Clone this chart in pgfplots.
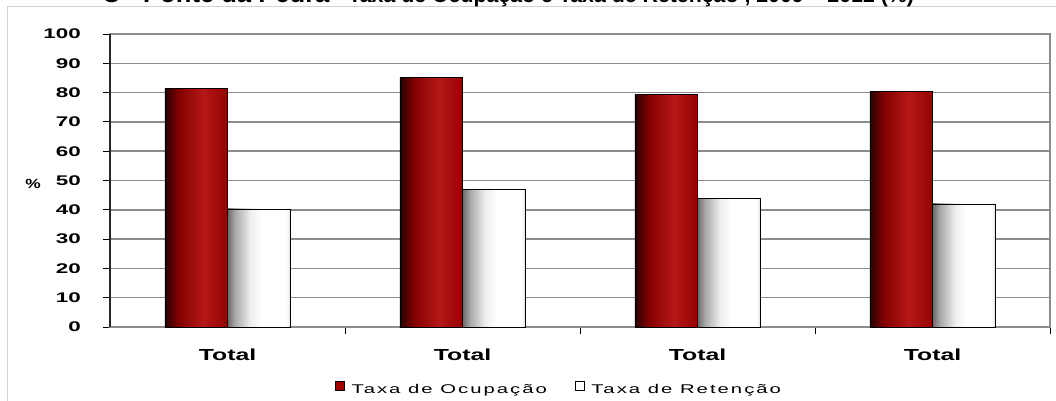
\documentclass[border=0pt]{standalone}
\usepackage{fontspec}
\setmainfont{Liberation Sans}
\usepackage{pgfplots}
\pgfplotsset{compat=1.18}
\definecolor{rb0}{HTML}{2A0000}
\definecolor{rb1}{HTML}{850000}
\definecolor{rb2}{HTML}{B51818}
\definecolor{rb3}{HTML}{950202}
\definecolor{legred}{HTML}{A00000}
\definecolor{wb0}{HTML}{6A6A6A}
\definecolor{wb1}{HTML}{A8A8A8}
\definecolor{wb2}{HTML}{EEEEEE}
\definecolor{wb3}{HTML}{E4E4E4}
\pgfdeclarehorizontalshading{redbar}{100bp}{color(0bp)=(rb0); color(25bp)=(rb0); color(36bp)=(rb1); color(56bp)=(rb2); color(75bp)=(rb3); color(100bp)=(rb3)}
\pgfdeclarehorizontalshading{whitebar}{100bp}{color(0bp)=(wb0); color(25bp)=(wb0); color(31bp)=(wb1); color(43bp)=(wb2); color(52bp)=(white); color(72bp)=(white); color(75bp)=(wb3); color(100bp)=(wb3)}
\newfontfamily\legfont[LetterSpace=10]{Liberation Sans}
\pgfplotsset{
  redb/.style={ybar, forget plot, bar width=0.266, bar shift=-0.133, shade, shading=redbar, draw=black, line width=0.6pt},
  whiteb/.style={ybar, forget plot, bar width=0.266, bar shift=0.133, shade, shading=whitebar, draw=black, line width=0.6pt},
}
\begin{document}
\begin{tikzpicture}
\begin{scope}[x=0.75pt,y=0.75pt]
\draw[black!18, line width=0.75pt] (7,-20) rectangle (1090,393);
\node[anchor=base, inner sep=0pt] at (508,397.5) {\resizebox{609pt}{!}{\bfseries{\large C - Ponte da Pedra} - Taxa de Ocupação e Taxa de Retenção , 2009 – 2012 (\%)}};
\end{scope}
\begin{axis}[
  at={(82.5pt,54.75pt)}, anchor=south west, scale only axis,
  width=705pt, height=219.75pt,
  xmin=-0.5, xmax=3.5, ymin=0, ymax=100,
  clip=false,
  xtick={0.5,1.5,2.5,3.5}, xticklabels={,,,},
  extra x ticks={0,1,2,3},
  extra x tick labels={\scalebox{1.55}[1]{Total},\scalebox{1.55}[1]{Total},\scalebox{1.55}[1]{Total},\scalebox{1.55}[1]{Total}},
  extra x tick style={tick style={draw=none}, grid=none},
  xticklabel style={anchor=base, yshift=-20pt, font=\fontsize{12}{14}\selectfont\bfseries},
  xtick pos=lower, ytick pos=left,
  ytick={0,10,...,100},
  yticklabel={\scalebox{1.6}[1]{\pgfmathprintnumber{\tick}}},
  yticklabel style={anchor=east, inner xsep=0pt, xshift=-16.5pt, font=\fontsize{10.5}{12}\selectfont\bfseries},
  /pgf/number format/assume math mode=true,
  ymajorgrids, grid style={draw=black!45, line width=1.1pt},
  tick align=outside, major tick length=5.25pt,
  tick style={draw=black, line width=0.6pt},
  axis line style={draw=black!45, line width=1.1pt},
  legend columns=2,
  legend style={at={(0.2394,-0.21)}, anchor=west, draw=none, fill=none, inner sep=0pt,
    nodes={inner sep=0pt, font=\legfont\fontsize{9.5}{10.5}\selectfont},
    /tikz/every odd column/.style={column sep=5.25pt},
    /tikz/every even column/.style={column sep=21pt}},
  legend image code/.code={\draw[#1] (0pt,0pt) rectangle (6.5pt,6.5pt);},
]
\addlegendimage{fill=legred, draw=black, line width=0.5pt}
\addlegendentry{\scalebox{1.6}[1]{Taxa de Ocupação}}
\addlegendimage{fill=white, draw=black, line width=0.5pt}
\addlegendentry{\scalebox{1.6}[1]{Taxa de Retenção}}
\addplot[redb] coordinates {(0,81.5)};
\addplot[redb] coordinates {(1,85.2)};
\addplot[redb] coordinates {(2,79.4)};
\addplot[redb] coordinates {(3,80.3)};
\addplot[whiteb] coordinates {(0,40.3)};
\addplot[whiteb] coordinates {(1,47.0)};
\addplot[whiteb] coordinates {(2,44.0)};
\addplot[whiteb] coordinates {(3,42.0)};
\draw[black!85, line width=1.1pt] (rel axis cs:0,0) -- (rel axis cs:0,1);
\node[font=\fontsize{10}{12}\selectfont\bfseries] at (rel axis cs:-0.0819,0.488) {\scalebox{1.3}[1]{\%}};
\end{axis}
\pgfresetboundingbox
\path (0,0) rectangle (792pt,300pt);
\end{tikzpicture}
\end{document}
